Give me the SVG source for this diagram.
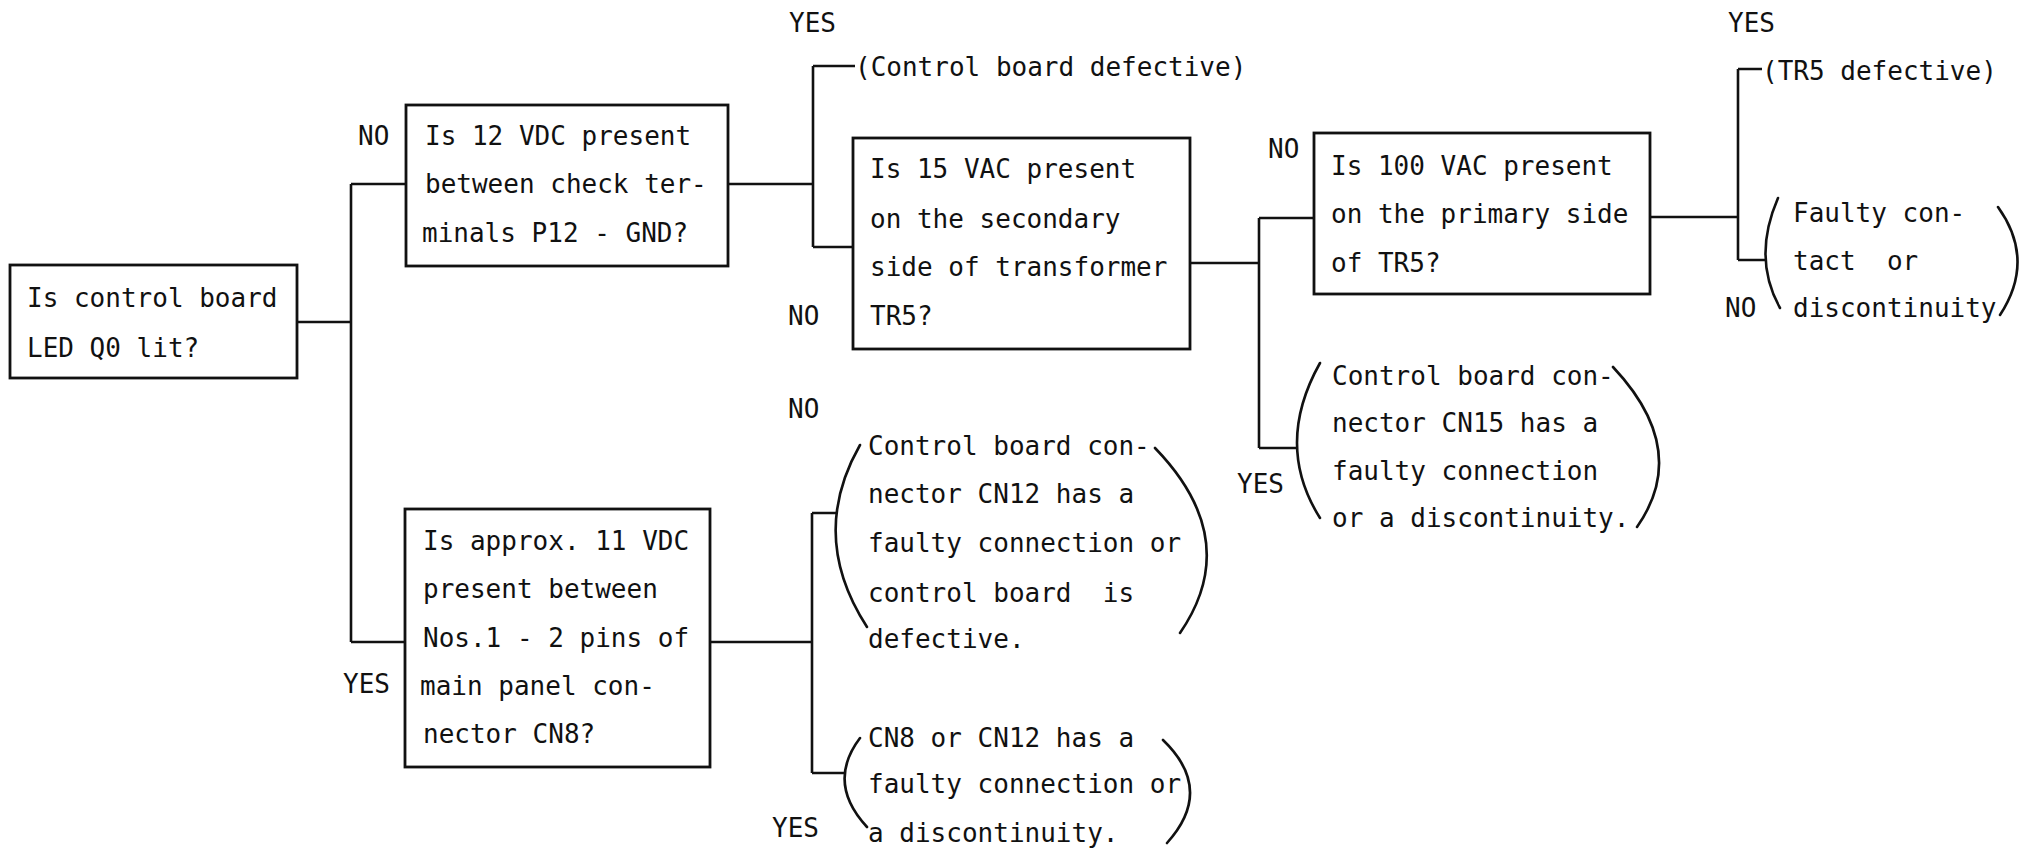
<svg xmlns="http://www.w3.org/2000/svg" width="2026" height="848" viewBox="0 0 2026 848">
<style>
text{font-family:"DejaVu Sans Mono","Liberation Mono",monospace;font-size:26px;fill:#111;white-space:pre}
.box{fill:none;stroke:#111;stroke-width:2.8}
.ln{fill:none;stroke:#111;stroke-width:2.6}
.par{fill:none;stroke:#111;stroke-width:2.6;stroke-linecap:round}
</style>
<rect width="2026" height="848" fill="#fff"/>
<g id="connectors">
<path class="ln" d="M297,322H351M351,184V642M351,184H406M351,642H405"/>
<path class="ln" d="M728,184H813M813,66V247M813,66H855M813,247H853"/>
<path class="ln" d="M1190,263H1259M1259,218V448M1259,218H1314M1259,448H1298"/>
<path class="ln" d="M1650,217H1738M1738,69V260M1738,69H1762M1738,260H1765"/>
<path class="ln" d="M710,642H812M812,513V773M812,513H837M812,773H845"/>
</g>
<g id="labels">
<text x="358" y="145">NO</text>
<text x="789" y="32">YES</text>
<text x="788" y="325">NO</text>
<text x="1268" y="158">NO</text>
<text x="1237" y="493">YES</text>
<text x="1728" y="32">YES</text>
<text x="1725" y="317">NO</text>
<text x="788" y="418">NO</text>
<text x="343" y="693">YES</text>
<text x="772" y="837">YES</text>
</g>
<g id="n1">
<rect class="box" x="10" y="265" width="287" height="113"/>
<text x="27" y="307">Is control board</text>
<text x="27" y="357">LED Q0 lit?</text>
</g>
<g id="n2">
<rect class="box" x="406" y="105" width="322" height="161"/>
<text x="425" y="145">Is 12 VDC present</text>
<text x="425" y="193">between check ter-</text>
<text x="422" y="242">minals P12 - GND?</text>
</g>
<g id="n3">
<text x="855" y="76">(Control board defective)</text>
</g>
<g id="n4">
<rect class="box" x="853" y="138" width="337" height="211"/>
<text x="870" y="178">Is 15 VAC present</text>
<text x="870" y="228">on the secondary</text>
<text x="870" y="276">side of transformer</text>
<text x="870" y="325">TR5?</text>
</g>
<g id="n5">
<rect class="box" x="1314" y="133" width="336" height="161"/>
<text x="1331" y="175">Is 100 VAC present</text>
<text x="1331" y="223">on the primary side</text>
<text x="1331" y="272">of TR5?</text>
</g>
<g id="n6">
<text x="1762" y="80">(TR5 defective)</text>
</g>
<g id="n7">
<path class="par" d="M1778,198 Q1752,258 1780,308"/>
<path class="par" d="M1998,207 Q2036,260 2000,315"/>
<text x="1793" y="222">Faulty con-</text>
<text x="1793" y="270">tact  or</text>
<text x="1793" y="317">discontinuity</text>
</g>
<g id="n8">
<path class="par" d="M1320,363 Q1274,445 1320,518"/>
<path class="par" d="M1613,367 Q1691,450 1637,527"/>
<text x="1332" y="385">Control board con-</text>
<text x="1332" y="432">nector CN15 has a</text>
<text x="1332" y="480">faulty connection</text>
<text x="1332" y="527">or a discontinuity.</text>
</g>
<g id="n9">
<rect class="box" x="405" y="509" width="305" height="258"/>
<text x="423" y="550">Is approx. 11 VDC</text>
<text x="423" y="598">present between</text>
<text x="423" y="647">Nos.1 - 2 pins of</text>
<text x="420" y="695">main panel con-</text>
<text x="423" y="743">nector CN8?</text>
</g>
<g id="n10">
<path class="par" d="M860,445 Q808,536 867,627"/>
<path class="par" d="M1155,448 Q1244,540 1180,633"/>
<text x="868" y="455">Control board con-</text>
<text x="868" y="503">nector CN12 has a</text>
<text x="868" y="552">faulty connection or</text>
<text x="868" y="602">control board  is</text>
<text x="868" y="648">defective.</text>
</g>
<g id="n11">
<path class="par" d="M860,738 Q826,783 867,827"/>
<path class="par" d="M1163,740 Q1215,790 1167,843"/>
<text x="868" y="747">CN8 or CN12 has a</text>
<text x="868" y="793">faulty connection or</text>
<text x="868" y="842">a discontinuity.</text>
</g>
</svg>
